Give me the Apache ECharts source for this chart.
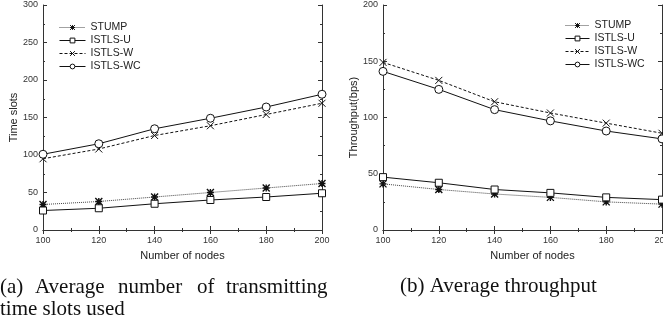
<!DOCTYPE html>
<html>
<head>
<meta charset="utf-8">
<script src="https://cdn.jsdelivr.net/npm/echarts@6/dist/echarts.min.js"></script>
<style>
  html, body { margin: 0; padding: 0; background: #fff; }
  #chart { width: 663px; height: 321px; }
</style>
</head>
<body>
<div id="chart"></div>
<script>
// x categories (number of nodes)
var nodes = [100, 120, 140, 160, 180, 200];

// (a) time slots used
var slotsStump = [34, 38, 44, 50, 56, 62];
var slotsU = [26, 29, 35, 40, 44, 49];
var slotsW = [95, 108, 126, 139, 154, 169];
var slotsWC = [101, 115, 135, 149, 164, 181];

// (b) throughput
var thrStump = [41, 36, 32, 29, 25, 23];
var thrU = [47, 42, 36, 33, 29, 27];
var thrW = [149, 133, 114, 104, 95, 86];
var thrWC = [141, 125, 107, 97, 88, 81];

var seriesNames = ['STUMP', 'ISTLS-U', 'ISTLS-W', 'ISTLS-WC'];

var FONT = 'Liberation Sans, Arial, sans-serif';
var SERIF = 'Liberation Serif, Times New Roman, serif';
var INK = '#111';
var AXIS = '#333';

function pairs(ys) {
  return nodes.map(function (x, i) { return [x, ys[i]]; });
}

// box axis: labelled side + plain mirror side (ticks only)
function xAxes(gridIndex, namePad) {
  var base = {
    type: 'value', gridIndex: gridIndex, min: 100, max: 200, interval: 20,
    axisLine: { show: true, lineStyle: { color: AXIS, width: 1 } },
    axisTick: { show: true, inside: true, length: 4, lineStyle: { color: AXIS } },
    minorTick: { show: true, splitNumber: 2, length: 2, lineStyle: { color: AXIS } },
    splitLine: { show: false }
  };
  return [
    Object.assign({}, base, {
      position: 'bottom',
      name: 'Number of nodes', nameLocation: 'middle', nameGap: 20,
      nameTextStyle: { fontFamily: FONT, fontSize: 11, color: '#222', padding: namePad },
      axisLabel: { fontFamily: FONT, fontSize: 9, color: '#333', margin: 6 }
    }),
    Object.assign({}, base, { position: 'top', axisLabel: { show: false } })
  ];
}

function yAxes(gridIndex, max, name) {
  var base = {
    type: 'value', gridIndex: gridIndex, min: 0, max: max, interval: 50,
    axisLine: { show: true, lineStyle: { color: AXIS, width: 1 } },
    axisTick: { show: true, inside: true, length: 4, lineStyle: { color: AXIS } },
    minorTick: { show: true, splitNumber: 2, length: 2, lineStyle: { color: AXIS } },
    splitLine: { show: false }
  };
  return [
    Object.assign({}, base, {
      position: 'left',
      name: name, nameLocation: 'middle', nameGap: 24,
      nameTextStyle: { fontFamily: FONT, fontSize: 11, color: '#222' },
      axisLabel: { fontFamily: FONT, fontSize: 9, color: '#333', margin: 5 }
    }),
    Object.assign({}, base, { position: 'right', axisLabel: { show: false } })
  ];
}

// marker + line style per method
var styles = {
  'STUMP': {
    symbol: 'path://M0,0L10,10M10,0L0,10M5,0L5,10M0,5L10,5', symbolSize: 7,
    itemStyle: { color: INK, borderColor: INK, borderWidth: 1.4 },
    lineStyle: { color: '#444', width: 1, type: 'dotted' }
  },
  'ISTLS-U': {
    symbol: 'rect', symbolSize: 7,
    itemStyle: { color: '#fff', borderColor: INK, borderWidth: 1 },
    lineStyle: { color: INK, width: 1, type: 'solid' }
  },
  'ISTLS-W': {
    symbol: 'path://M0,0L10,10M10,0L0,10', symbolSize: 7,
    itemStyle: { color: INK, borderColor: INK, borderWidth: 1 },
    lineStyle: { color: INK, width: 1, type: [3, 2] }
  },
  'ISTLS-WC': {
    symbol: 'circle', symbolSize: 8,
    itemStyle: { color: '#fff', borderColor: INK, borderWidth: 1 },
    lineStyle: { color: INK, width: 1, type: 'solid' }
  }
};

function makeSeries(name, data, axisIndex) {
  var s = styles[name];
  return {
    name: name, type: 'line', data: pairs(data),
    xAxisIndex: axisIndex, yAxisIndex: axisIndex,
    symbol: s.symbol, symbolSize: s.symbolSize, showAllSymbol: true,
    itemStyle: s.itemStyle, lineStyle: s.lineStyle,
    emphasis: { disabled: true }, animation: false
  };
}

function legendAt(left, top, itemWidth) {
  return {
    orient: 'vertical', left: left, top: top, padding: 0,
    itemWidth: itemWidth, itemHeight: 6, itemGap: 2,
    data: seriesNames,
    itemStyle: { borderWidth: 1 },
    lineStyle: { width: 1 },
    textStyle: { fontFamily: FONT, fontSize: 10.5, color: '#222', lineHeight: 11 }
  };
}

var chart = echarts.init(document.getElementById('chart'), null, { renderer: 'canvas' });

var xa = xAxes(0, [0, 0, 0, 0]).concat(xAxes(1, [0, 0, 0, 20]));
var ya = yAxes(0, 300, 'Time slots').concat(yAxes(1, 200, 'Throughput(bps)'));

chart.setOption({
  backgroundColor: '#fff',
  animation: false,
  grid: [
    { left: 43, top: 5, width: 279, height: 225, outerBoundsMode: 'none', containLabel: false },
    { left: 383, top: 5, width: 279, height: 225, outerBoundsMode: 'none', containLabel: false }
  ],
  xAxis: xa,
  yAxis: ya,
  legend: [legendAt(59, 22, 26), legendAt(565, 20, 24)],
  series: [
    makeSeries('STUMP', slotsStump, 0),
    makeSeries('ISTLS-U', slotsU, 0),
    makeSeries('ISTLS-W', slotsW, 0),
    makeSeries('ISTLS-WC', slotsWC, 0),
    makeSeries('STUMP', thrStump, 2),
    makeSeries('ISTLS-U', thrU, 2),
    makeSeries('ISTLS-W', thrW, 2),
    makeSeries('ISTLS-WC', thrWC, 2)
  ],
  // sub-figure captions (justified first line of (a) set word by word)
  graphic: [
    { type: 'text', left: 0, top: 277, style: { text: '(a)', font: '21px ' + SERIF, fill: '#111' } },
    { type: 'text', left: 35, top: 277, style: { text: 'Average', font: '21px ' + SERIF, fill: '#111' } },
    { type: 'text', left: 118, top: 277, style: { text: 'number', font: '21px ' + SERIF, fill: '#111' } },
    { type: 'text', left: 197, top: 277, style: { text: 'of', font: '21px ' + SERIF, fill: '#111' } },
    { type: 'text', left: 226, top: 277, style: { text: 'transmitting', font: '21px ' + SERIF, fill: '#111' } },
    { type: 'text', left: 0, top: 299, style: { text: 'time slots used', font: '21px ' + SERIF, fill: '#111' } },
    { type: 'text', left: 400, top: 276, style: { text: '(b) Average throughput', font: '21px ' + SERIF, fill: '#111' } }
  ]
});
</script>
</body>
</html>
